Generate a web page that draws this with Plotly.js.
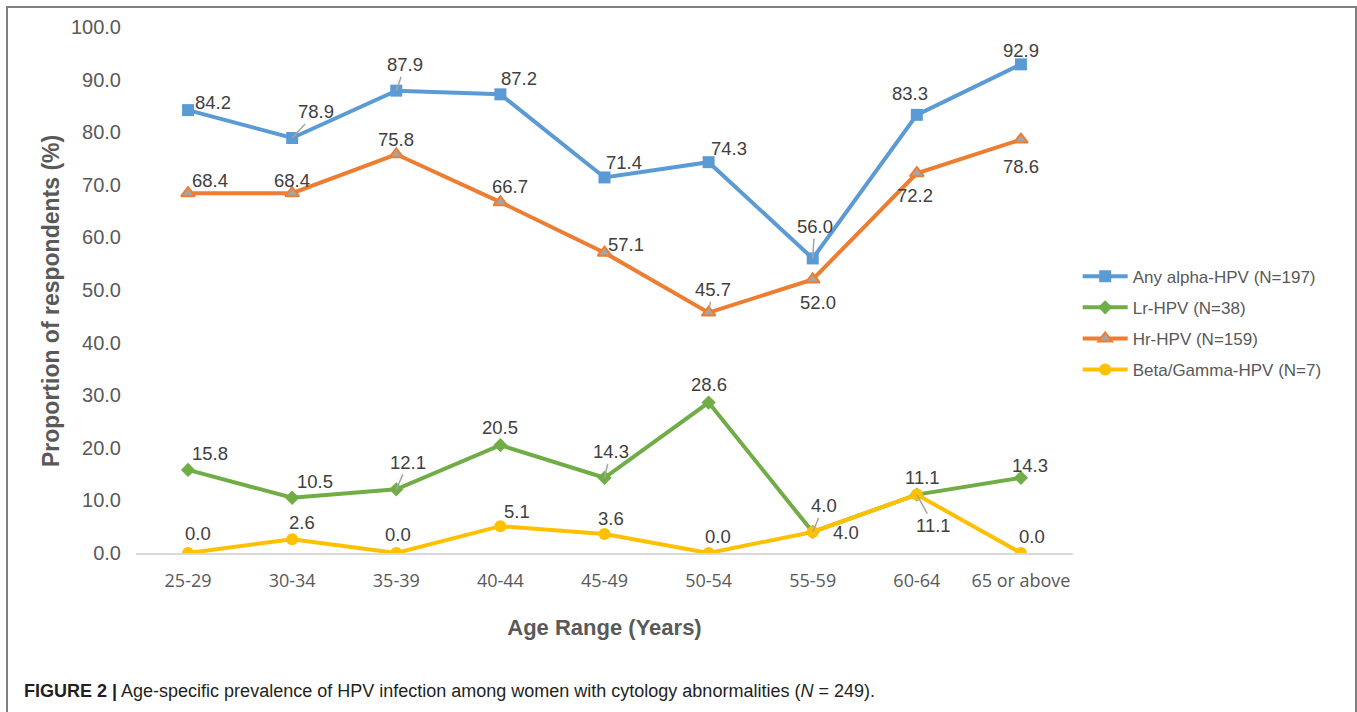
<!DOCTYPE html>
<html>
<head>
<meta charset="utf-8">
<script src="https://cdn.plot.ly/plotly-3.0.1.min.js"></script>
<style>
  html, body { margin: 0; padding: 0; background: #fff; }
  #chart { position: absolute; left: 0; top: 0; width: 1357px; height: 712px; }
  #frame { position: absolute; left: 6px; top: 6px; width: 1347px; height: 740px;
           border: 2px solid #7f7f7f; border-bottom: none; pointer-events: none; }
</style>
</head>
<body>
<div id="chart"></div>
<div id="frame"></div>
<script>
// ---- data ----
const ageRanges = ["25-29", "30-34", "35-39", "40-44", "45-49", "50-54", "55-59", "60-64", "65 or above"];
const anyAlpha  = [84.2, 78.9, 87.9, 87.2, 71.4, 74.3, 56.0, 83.3, 92.9];
const lrHPV     = [15.8, 10.5, 12.1, 20.5, 14.3, 28.6, 4.0, 11.1, 14.3];
const hrHPV     = [68.4, 68.4, 75.8, 66.7, 57.1, 45.7, 52.0, 72.2, 78.6];
const betaGamma = [0.0, 2.6, 0.0, 5.1, 3.6, 0.0, 4.0, 11.1, 0.0];
const seriesNames = ["Any alpha-HPV (N=197)", "Lr-HPV (N=38)", "Hr-HPV (N=159)", "Beta/Gamma-HPV (N=7)"];
const yTicks = [0, 10, 20, 30, 40, 50, 60, 70, 80, 90, 100];

// ---- label placement (pixel offsets of label centre from point, leader flag) ----
const labelOffsets = {
  anyAlpha:  [[25,-8,0],[24,-26,1],[9,-26,1],[19,-16,0],[19,-15,0],[20,-14,0],[2,-32,1],[-7,-21,0],[0,-14,0]],
  lrHPV:     [[22,-16,0],[23,-16,0],[12,-27,1],[0,-18,0],[6,-26,1],[0,-18,0],[11,-26,1],[6,-17,0],[9,-12,0]],
  hrHPV:     [[22,-13,0],[0,-13,0],[0,-15,0],[10,-16,0],[21,-8,0],[4,-23,1],[5,23,0],[-2,22,0],[0,27,0]],
  betaGamma: [[10,-20,0],[10,-17,0],[2,-19,0],[17,-15,0],[6,-16,0],[9,-17,0],[33,1,0],[17,31,1],[11,-17,0]]
};

const colors = { blue: "#5B9BD5", green: "#70AD47", orange: "#ED7D31", yellow: "#FFC000", grey: "#A5A5A5" };

const traces = [
  { x: ageRanges, y: anyAlpha, name: seriesNames[0], legendgroup: "a", type: "scatter", mode: "lines+markers",
    line: { color: colors.blue, width: 4 }, marker: { symbol: "square", size: 12, color: colors.blue } },
  { x: ageRanges, y: lrHPV, name: seriesNames[1], legendgroup: "b", type: "scatter", mode: "lines+markers",
    line: { color: colors.green, width: 4 }, marker: { symbol: "diamond", size: 11, color: colors.green } },
  { x: ageRanges, y: hrHPV, name: seriesNames[2], legendgroup: "c", type: "scatter", mode: "lines+markers",
    line: { color: colors.orange, width: 4 },
    marker: { symbol: "triangle-up", size: 12, color: colors.grey, line: { color: colors.orange, width: 2 } } },
  { x: ageRanges, y: betaGamma, name: seriesNames[3], legendgroup: "d", type: "scatter", mode: "lines+markers",
    line: { color: colors.yellow, width: 4 }, marker: { symbol: "circle", size: 12, color: colors.yellow } }
];

const annotations = [];
function addLabels(values, offsets) {
  values.forEach((v, i) => {
    const o = offsets[i];
    annotations.push({
      x: ageRanges[i], y: v, xref: "x", yref: "y",
      text: v.toFixed(1), showarrow: true, arrowhead: 0, standoff: 0,
      arrowwidth: 1.5, arrowcolor: o[2] ? "#A5A5A5" : "rgba(0,0,0,0)",
      ax: o[0], ay: o[1],
      font: { family: "Liberation Sans, Arial, sans-serif", size: 18.5, color: "#404040" }
    });
  });
}
addLabels(anyAlpha, labelOffsets.anyAlpha);
addLabels(lrHPV, labelOffsets.lrHPV);
addLabels(hrHPV, labelOffsets.hrHPV);
addLabels(betaGamma, labelOffsets.betaGamma);

// y-axis title
annotations.push({
  xref: "paper", yref: "paper", x: -0.0907, y: 0.479, xanchor: "center", yanchor: "middle",
  showarrow: false, textangle: -90,
  text: "<b>Proportion of respondents (%)</b>",
  font: { family: "Liberation Sans, Arial, sans-serif", size: 23, color: "#595959" }
});

// caption
annotations.push({
  xref: "paper", yref: "paper", x: -0.1217, y: -0.262, xanchor: "left", yanchor: "middle", showarrow: false,
  text: "<b>FIGURE 2 |</b> Age-specific prevalence of HPV infection among women with cytology abnormalities (<i>N</i> = 249).",
  font: { family: "Liberation Sans, Arial, sans-serif", size: 18, color: "#231f20" }
});

const layout = {
  width: 1357, height: 712,
  margin: { l: 136, r: 284, t: 27, b: 159 },
  paper_bgcolor: "#ffffff", plot_bgcolor: "#ffffff",
  showlegend: true,
  legend: {
    x: 1.005, y: 0.437, xanchor: "left", yanchor: "middle",
    font: { family: "Liberation Sans, Arial, sans-serif", size: 17, color: "#595959" },
    itemwidth: 45, tracegroupgap: 6, bgcolor: "rgba(0,0,0,0)"
  },
  xaxis: {
    type: "category", range: [-0.5, 8.5], showgrid: false, zeroline: false,
    showline: true, linecolor: "#D9D9D9", linewidth: 1.5, ticks: "",
    ticklabelstandoff: 11,
    tickfont: { family: "Open Sans, sans-serif", size: 18, color: "#595959" },
    title: { text: "<b>Age Range (Years)</b>", standoff: 28,
             font: { family: "Liberation Sans, Arial, sans-serif", size: 22, color: "#595959" } }
  },
  yaxis: {
    range: [0, 100], tickvals: yTicks, ticktext: yTicks.map(v => v.toFixed(1)),
    showgrid: false, zeroline: false, showline: false, ticks: "",
    ticklabelstandoff: 14,
    tickfont: { family: "Liberation Sans, Arial, sans-serif", size: 20, color: "#595959" }
  },
  annotations: annotations
};

Plotly.newPlot("chart", traces, layout, { displayModeBar: false, staticPlot: true });
</script>
</body>
</html>
